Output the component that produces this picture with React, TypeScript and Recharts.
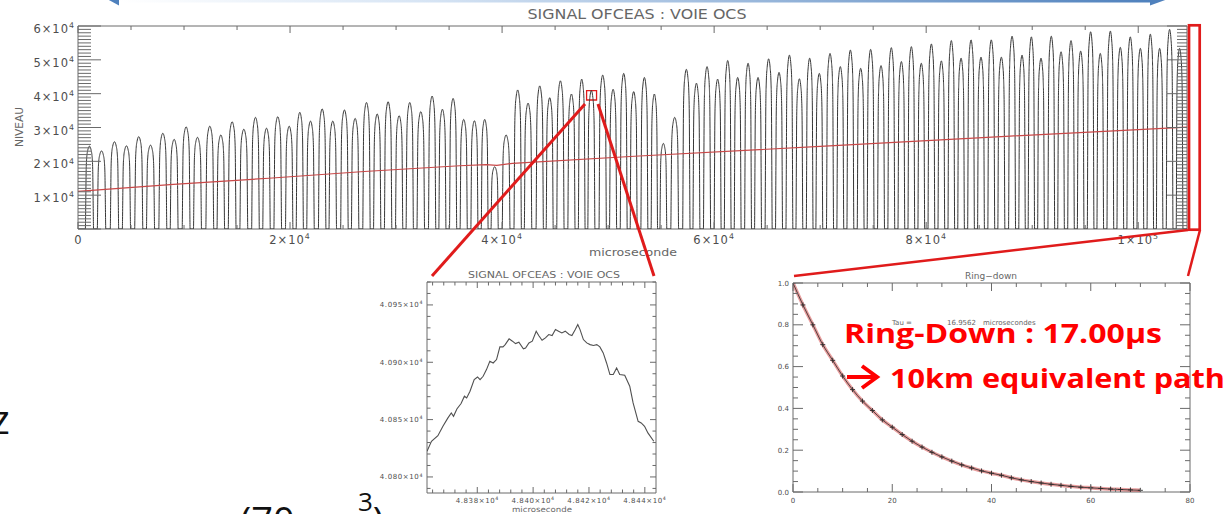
import React from "react";
import { LineChart, Line, XAxis, YAxis, ReferenceArea } from "recharts";

// ---- long scan: one entry per transmission peak (centre in µs, peak level)
const PEAK_TIMES = [
  1080, 2220, 3440, 4570, 5730, 6840, 8000, 9070, 10200, 11270,
  12430, 13470, 14540, 15640, 16740, 17780, 18840, 19920, 20920, 21930,
  23030, 24030, 25130, 26140, 27210, 28220, 29250, 30290, 31290, 32330,
  33400, 34370, 35380, 36380, 37390, 38360, 39300, 40380, 41470, 42450,
  43550, 44490, 45500, 46540, 47510, 48420, 49490, 50470, 51470, 52410,
  53420, 54360, 55210, 56280, 57380, 58330, 59330, 60330, 61280, 62220,
  63200, 64140, 65140, 66120, 67100, 68040, 69010, 69920, 70930, 71900,
  72850, 73820, 74760, 75740, 76710, 77660, 78600, 79540, 80490, 81430,
  82370, 83290, 84230, 85170, 86140, 87090, 88100, 89040, 89920, 90830,
  91800, 92720, 93660, 94570, 95510, 96420, 97370, 98310, 99250, 100200,
  101140, 102020, 102960, 103900,
];
const PEAK_LEVELS = [
  24500, 23100, 25800, 24600, 27300, 24800, 28300, 26500, 30200, 27100,
  30400, 27800, 31700, 29500, 33000, 29800, 33200, 30400, 34500, 31900,
  35500, 31900, 35200, 32700, 37400, 34000, 37600, 33500, 37400, 34700,
  39300, 35400, 38600, 32400, 32000, 32400, 18400, 27800, 41100, 37200,
  42300, 38800, 43800, 39900, 44300, 40930, 45500, 41300, 46000, 40600,
  44800, 39900, 25300, 33000, 47200, 43100, 48000, 44300, 49800, 44800,
  49000, 44800, 50300, 46300, 51400, 44400, 50500, 46000, 51900, 48000,
  52900, 47500, 53100, 48300, 53600, 49500, 53900, 49000, 54700, 49700,
  55700, 50500, 55900, 50800, 55900, 50800, 57000, 51400, 56800, 50500,
  57000, 52400, 55700, 52600, 58300, 51900, 58500, 53700, 56800, 53400,
  57600, 53400, 59000, 53400,
];
// profile of a single peak: offset in mode spacings, fraction of peak level
const PEAK_SHAPE: [number, number][] = [
  [-0.34, 0], [-0.3, 0.4], [-0.27, 0.72], [-0.22, 0.87], [-0.14, 0.95], [-0.06, 0.99],
  [0, 1], [0.06, 0.99], [0.14, 0.95], [0.22, 0.87], [0.27, 0.72], [0.3, 0.4], [0.34, 0],
];
// laser ramp (red trace)
const RAMP_TIMES = [0, 9000, 18000, 27000, 36000, 38500, 39500, 41000, 52500, 70000, 87500, 104600];
const RAMP_LEVELS = [11100, 13200, 15000, 17000, 18700, 19000, 18800, 19400, 21500, 24400, 27400, 30100];

// ---- zoom on the top of one peak
const ZOOM_TIMES = [
  48362.0, 48363.6, 48365.9, 48367.7, 48369.5, 48370.7, 48371.5, 48372.7, 48374.2, 48375.4,
  48376.2, 48377.4, 48378.9, 48380.1, 48381.0, 48382.1, 48383.3, 48384.5, 48385.7, 48386.9,
  48388.1, 48389.2, 48390.0, 48391.4, 48392.6, 48393.7, 48394.9, 48396.5, 48397.3, 48398.5,
  48399.7, 48401.1, 48402.0, 48403.2, 48404.4, 48405.6, 48406.8, 48408.0, 48409.1, 48410.3,
  48411.5, 48412.9, 48413.9, 48415.1, 48416.0, 48416.8, 48418.0, 48419.2, 48420.4, 48421.6,
  48422.8, 48423.9, 48425.1, 48426.3, 48427.5, 48428.7, 48429.9, 48431.0, 48432.8, 48434.6,
  48435.8, 48437.6, 48438.7, 48439.9, 48441.1, 48443.2,
];
const ZOOM_LEVELS = [
  40822.4, 40831.1, 40836.0, 40844.2, 40851.5, 40855.8, 40852.9, 40859.3, 40864.0, 40870.4,
  40868.9, 40874.7, 40884.9, 40887.2, 40884.9, 40887.8, 40893.6, 40900.9, 40899.4, 40902.4,
  40913.4, 40913.4, 40915.4, 40920.4, 40918.4, 40916.3, 40917.5, 40911.7, 40912.5, 40916.9,
  40918.4, 40927.1, 40923.3, 40919.2, 40921.3, 40924.2, 40923.3, 40928.5, 40927.1, 40925.6,
  40927.1, 40924.2, 40923.3, 40928.5, 40932.9, 40928.5, 40919.8, 40916.9, 40915.4, 40914.6,
  40915.4, 40913.4, 40908.2, 40899.4, 40889.3, 40889.3, 40895.1, 40889.3, 40888.7, 40879.1,
  40864.5, 40848.5, 40847.1, 40844.2, 40838.4, 40831.1,
];

// ---- ring-down decay (normalised)
const DECAY_TIMES = [
  0, 2, 4, 6, 8, 10, 12, 14, 16, 18, 20, 22, 24, 26, 28, 30, 32, 34,
  36, 38, 40, 42, 44, 46, 48, 50, 52, 54, 56, 58, 60, 62, 64, 66, 68, 70,
];
const DECAY_LEVELS = [
  1.0, 0.895, 0.8, 0.705, 0.63, 0.555, 0.49, 0.435, 0.39, 0.345, 0.31, 0.275,
  0.243, 0.215, 0.19, 0.168, 0.148, 0.13, 0.115, 0.101, 0.09, 0.08, 0.068, 0.058,
  0.05, 0.043, 0.037, 0.032, 0.027, 0.023, 0.02, 0.017, 0.014, 0.012, 0.01, 0.008,
];

const AXIS = "#6a6a6a";
const INK = "#4d4d4d";
const TICK_FONT = "DejaVu Sans, sans-serif";
const RED = "#e01b1b";

const range = (a: number, b: number, step: number) => {
  const out: number[] = [];
  for (let v = a; v <= b + 1e-9; v += step) out.push(v);
  return out;
};

type Box = { left: number; right: number; top: number; bottom: number };

const SciText = ({ x, y, mant, exp, size, anchor = "middle", spacing = 0 }: any) => (
  <text x={x} y={y} textAnchor={anchor} fontFamily={TICK_FONT} fontSize={size} fill={INK} letterSpacing={spacing}>
    {mant}×10
    <tspan dy={-size * 0.42} fontSize={size * 0.68}>{exp}</tspan>
  </text>
);

const PlainText = ({ x, y, text, size, anchor = "middle" }: any) => (
  <text x={x} y={y} textAnchor={anchor} fontFamily={TICK_FONT} fontSize={size} fill={INK}>
    {text}
  </text>
);

// inward ticks on bottom + top edge, label only on major ticks
const xTicker =
  (box: Box, isMajor: (v: number) => boolean, major: number, minor: number, label: (v: number, x: number) => React.ReactNode) =>
  (p: any) => {
    const v = p.payload.value;
    const big = isMajor(v);
    const len = big ? major : minor;
    return (
      <g>
        <line x1={p.x} x2={p.x} y1={box.bottom} y2={box.bottom - len} stroke={AXIS} />
        <line x1={p.x} x2={p.x} y1={box.top} y2={box.top + len} stroke={AXIS} />
        {big && label(v, p.x)}
      </g>
    );
  };

// inward ticks on left + right edge
const yTicker =
  (box: Box, isMajor: (v: number) => boolean, lens: [number, number, number, number], label: (v: number, y: number) => React.ReactNode) =>
  (p: any) => {
    const v = p.payload.value;
    const big = isMajor(v);
    const l = big ? lens[0] : lens[1];
    const r = big ? lens[2] : lens[3];
    return (
      <g>
        <line x1={box.left} x2={box.left + l} y1={p.y} y2={p.y} stroke={AXIS} />
        <line x1={box.right - r} x2={box.right} y1={p.y} y2={p.y} stroke={AXIS} />
        {big && label(v, p.y)}
      </g>
    );
  };

const sciParts = (v: number) => {
  const e = Math.floor(Math.log10(v));
  return { mant: String(Math.round(v / 10 ** e)), exp: String(e) };
};

// ---------------- main scan
const MAIN: Box = { left: 78, right: 1187, top: 26, bottom: 229 };

const signal: { x: number; y: number }[] = [{ x: 0, y: 0 }];
PEAK_TIMES.forEach((t, i) => {
  const prev = i > 0 ? PEAK_TIMES[i - 1] : 2 * t - PEAK_TIMES[i + 1];
  const next = i < PEAK_TIMES.length - 1 ? PEAK_TIMES[i + 1] : 2 * t - PEAK_TIMES[i - 1];
  const spacing = (next - prev) / 2;
  PEAK_SHAPE.forEach(([off, rel]) => signal.push({ x: t + off * spacing, y: rel * PEAK_LEVELS[i] }));
});
signal.push({ x: 104600, y: 0 });

const ramp = RAMP_TIMES.map((x, i) => ({ x, y: RAMP_LEVELS[i] }));

const mainXTick = xTicker(MAIN, (v) => v % 20000 === 0, 7, 4, (v, x) =>
  v === 0 ? (
    <PlainText x={x} y={243.5} text="0" size={11.5} />
  ) : (
    <SciText x={x} y={243.5} {...sciParts(v)} size={11.5} spacing={1} />
  )
);
const mainYTick = yTicker(MAIN, (v) => v % 10000 === 0, [23, 13, 20, 10], (v, y) =>
  v > 0 ? <SciText x={MAIN.left - 3} y={y + 7} {...sciParts(v)} size={11.5} spacing={1} anchor="end" /> : null
);

const MainChart = () => (
  <LineChart width={1229} height={262} margin={{ top: 26, right: 42, bottom: 0, left: 0 }}>
    <XAxis type="number" dataKey="x" domain={[0, 104600]} ticks={range(0, 100000, 5000)} interval={0}
      tick={mainXTick} tickLine={false} axisLine={false} height={33} allowDataOverflow />
    <YAxis type="number" domain={[0, 60000]} ticks={range(0, 60000, 1000)} interval={0}
      tick={mainYTick} tickLine={false} axisLine={false} width={78} allowDataOverflow />
    <ReferenceArea x1={0} x2={104600} y1={0} y2={60000} fill="none" stroke={AXIS} strokeWidth={1} />
    <Line data={signal} dataKey="y" type="monotone" stroke="#363636" strokeWidth={1} dot={false} isAnimationActive={false} />
    <Line data={ramp} dataKey="y" type="linear" stroke="#c94848" strokeWidth={1.2} dot={false} isAnimationActive={false} />
    <ReferenceArea x1={47970} x2={48910} y1={38130} y2={40880} fill="none" stroke={RED} strokeWidth={1.3} />
  </LineChart>
);

// ---------------- zoom on one peak top
const ZBOX: Box = { left: 67, right: 296, top: 20, bottom: 231 };
const zoomData = ZOOM_TIMES.map((t, i) => ({ t, v: ZOOM_LEVELS[i] }));

const zoomXTick = xTicker(ZBOX, (v) => v % 20 === 0, 6, 3.5, (v, x) => (
  <SciText x={x} y={241} mant={(v / 10000).toFixed(3)} exp="4" size={7} spacing={0.6} />
));
const zoomYTick = yTicker(ZBOX, (v) => v % 50 === 0, [6, 3.5, 6, 3.5], (v, y) => (
  <SciText x={ZBOX.left - 4} y={y + 2.5} mant={(v / 10000).toFixed(3)} exp="4" size={7} spacing={0.6} anchor="end" />
));

const ZoomChart = () => (
  <LineChart width={310} height={252} margin={{ top: 20, right: 14, bottom: 0, left: 0 }} data={zoomData}>
    <XAxis type="number" dataKey="t" domain={[48362, 48444]} ticks={range(48364, 48440, 4)} interval={0}
      tick={zoomXTick} tickLine={false} axisLine={false} height={21} allowDataOverflow />
    <YAxis type="number" domain={[40786, 40970]} ticks={range(40790, 40970, 10)} interval={0}
      tick={zoomYTick} tickLine={false} axisLine={false} width={67} allowDataOverflow />
    <ReferenceArea x1={48362} x2={48444} y1={40786} y2={40970} fill="none" stroke={AXIS} />
    <Line dataKey="v" type="linear" stroke="#505050" strokeWidth={1.1} dot={false} isAnimationActive={false} />
  </LineChart>
);

// ---------------- ring-down
const RBOX: Box = { left: 53, right: 450, top: 21, bottom: 230 };
const decayData = DECAY_TIMES.map((t, i) => ({ t, fit: DECAY_LEVELS[i], v: DECAY_LEVELS[i] }));

const rdXTick = xTicker(RBOX, (v) => v % 20 === 0, 8, 4, (v, x) => <PlainText x={x} y={240.5} text={String(v)} size={7} />);
const rdYTick = yTicker(RBOX, (v) => Math.abs(v * 5 - Math.round(v * 5)) < 1e-6, [10, 5, 10, 5], (v, y) => (
  <PlainText x={RBOX.left - 4} y={y + 2.5} text={v.toFixed(1)} size={7} anchor="end" />
));

const PlusDot = (p: any) => (
  <path key={`p${p.index}`} d={`M${p.cx - 2.5},${p.cy}h5M${p.cx},${p.cy - 2.5}v5`} stroke="#2a2a2a" strokeWidth={0.9} />
);

const RingDownChart = () => (
  <LineChart width={489} height={252} margin={{ top: 21, right: 39, bottom: 0, left: 0 }} data={decayData}>
    <XAxis type="number" dataKey="t" domain={[0, 80]} ticks={range(0, 80, 5)} interval={0}
      tick={rdXTick} tickLine={false} axisLine={false} height={22} allowDataOverflow />
    <YAxis type="number" domain={[0, 1]} ticks={range(0, 100, 5).map((v) => v / 100)} interval={0}
      tick={rdYTick} tickLine={false} axisLine={false} width={53} allowDataOverflow />
    <ReferenceArea x1={0} x2={80} y1={0} y2={1} fill="none" stroke={AXIS} />
    <Line dataKey="fit" type="monotone" stroke="#d23c3c" strokeOpacity={0.5} strokeWidth={3.5} dot={false} isAnimationActive={false} />
    <Line dataKey="v" type="monotone" stroke="#2a2a2a" strokeWidth={0.8} dot={PlusDot} isAnimationActive={false} />
  </LineChart>
);

const LABEL = { fontFamily: TICK_FONT, fill: "#666" };
const CALLOUT = { fontFamily: "'Open Sans', sans-serif", fontWeight: 700, fill: "#ff0000" };

export default function App() {
  return (
    <div style={{ position: "absolute", left: 0, top: 0, width: 1229, height: 514, overflow: "hidden", background: "#fff" }}>
      <div style={{ position: "absolute", left: 0, top: 0 }}>
        <MainChart />
      </div>
      <div style={{ position: "absolute", left: 360, top: 262 }}>
        <ZoomChart />
      </div>
      <div style={{ position: "absolute", left: 740, top: 262 }}>
        <RingDownChart />
      </div>

      <svg width={1229} height={514} style={{ position: "absolute", left: 0, top: 0, pointerEvents: "none" }}>
        <defs>
          <linearGradient id="shaft" x1="0" x2="1" y1="0" y2="0">
            <stop offset="0" stopColor="#ffffff" />
            <stop offset="0.3" stopColor="#d6e4f4" />
            <stop offset="1" stopColor="#4f81bd" />
          </linearGradient>
        </defs>
        {/* double arrow along the top edge */}
        <rect x={119} y={-4} width={1032} height={6.5} fill="url(#shaft)" />
        <polygon points="107,-1 119,-9 119,5.5" fill="#4f81bd" />
        <polygon points="1168,-1 1150,-9 1150,5.5" fill="#4f81bd" />

        {/* titles and axis names */}
        <text x={637} y={19} textAnchor="middle" fontSize={14} textLength={219} lengthAdjust="spacingAndGlyphs" {...LABEL}>
          SIGNAL OFCEAS : VOIE OCS
        </text>
        <text x={19} y={130.5} textAnchor="middle" fontSize={10} textLength={40} lengthAdjust="spacingAndGlyphs"
          transform="rotate(-90 19 127)" {...LABEL}>
          NIVEAU
        </text>
        <text x={633} y={256} textAnchor="middle" fontSize={11} textLength={88} lengthAdjust="spacingAndGlyphs" {...LABEL}>
          microseconde
        </text>
        <text x={544} y={278} textAnchor="middle" fontSize={9} textLength={152} lengthAdjust="spacingAndGlyphs" {...LABEL}>
          SIGNAL OFCEAS : VOIE OCS
        </text>
        <text x={542} y={512} textAnchor="middle" fontSize={7.5} textLength={60} lengthAdjust="spacingAndGlyphs" {...LABEL}>
          microseconde
        </text>
        <text x={991} y={278.5} textAnchor="middle" fontSize={8.5} textLength={52} lengthAdjust="spacingAndGlyphs" {...LABEL}>
          Ring−down
        </text>
        <text y={325} fontSize={7} {...LABEL}>
          <tspan x={892}>Tau =</tspan>
          <tspan x={947}>16.9562</tspan>
          <tspan x={983}>microsecondes</tspan>
        </text>

        {/* zoom guides */}
        <line x1={585} y1={104} x2={432} y2={276} stroke={RED} strokeWidth={3} />
        <line x1={598} y1={104} x2={654} y2={276} stroke={RED} strokeWidth={3} />
        <rect x={1189} y={25.3} width={10.7} height={204.4} fill="none" stroke={RED} strokeWidth={2.7} />
        <line x1={1188} y1={230} x2={794} y2={276} stroke={RED} strokeWidth={2.5} />
        <line x1={1200} y1={230} x2={1188} y2={276} stroke={RED} strokeWidth={2.5} />

        {/* call-out on the decay */}
        <text x={844} y={343} fontSize={27} textLength={318} lengthAdjust="spacingAndGlyphs" {...CALLOUT}>
          Ring-Down : 17.00µs
        </text>
        <path d="M847,377 H874 M862,366 L877,377 L862,388" fill="none" stroke="#ff0000" strokeWidth={4} />
        <text x={890} y={388} fontSize={27} textLength={335} lengthAdjust="spacingAndGlyphs" {...CALLOUT}>
          10km equivalent path
        </text>

        {/* slide text around the figure */}
        <text x={-9} y={434} fontSize={40} fontFamily="'Open Sans', sans-serif" fill="#111">
          z
        </text>
        <text x={240} y={535} fontSize={38} fontFamily="'Open Sans', sans-serif" fill="#111">
          (70 cm
          <tspan dy={-24} fontSize={26}>3</tspan>
          <tspan dy={24}>)</tspan>
        </text>
      </svg>
    </div>
  );
}
